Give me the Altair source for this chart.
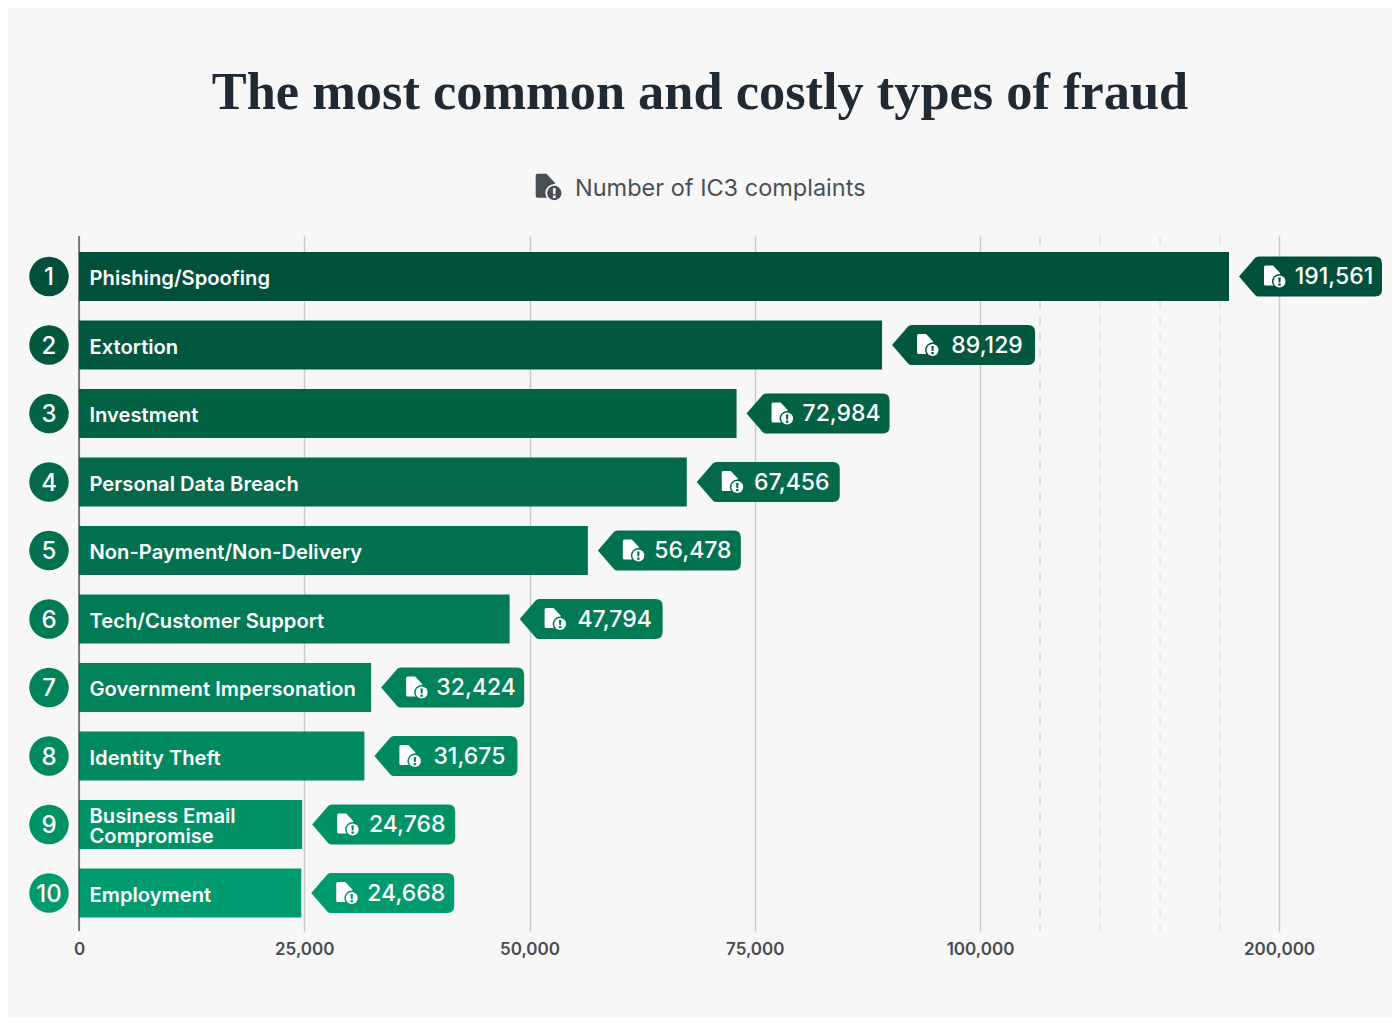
import altair as alt
import pandas as pd

ranks = list(range(1, 11))
categories = ["Phishing/Spoofing", "Extortion", "Investment", "Personal Data Breach",
              "Non-Payment/Non-Delivery", "Tech/Customer Support", "Government Impersonation",
              "Identity Theft", "Business Email\nCompromise", "Employment"]
complaints = [191561, 89129, 72984, 67456, 56478, 47794, 32424, 31675, 24768, 24668]
colors = ["#01503b", "#02583f", "#036144", "#03694a", "#02714f",
          "#027a55", "#02825a", "#018a60", "#009265", "#009a6f"]
tick_values = [0, 25000, 50000, 75000, 100000, 200000]
break_values = [120000, 140000, 160000, 180000]
break_opacity = [0.9, 0.6, 0.6, 0.6]
title_text = "The most common and costly types of fraud"
subtitle_text = "Number of IC3 complaints"

df = pd.DataFrame({"rank": ranks, "category": categories, "value": complaints, "zero": 0})
df["label"] = df["value"].map(lambda v: f"{v:,}")
breaks = pd.DataFrame({"b": break_values, "o": break_opacity})

FONT = "Inter"
BADGE = "M10 0 L26 -18.5 Q27.5 -20 29.5 -20 H146 Q153 -20 153 -13 V13 Q153 20 146 20 H29.5 Q27.5 20 26 18.5 Z"
DOC = "M-7.5 -11 H0 L7 -3.5 V9 H-7.5 Q-9 9 -9 7.5 V-9.5 Q-9 -11 -7.5 -11 Z"
BANG = "M-1.2 -4 H1.2 L0.9 1 H-0.9 Z M-1.2 2 H1.2 V4.2 H-1.2 Z"

x_scale = alt.Scale(domain=[0, 100000, 180000, 191561, 200000],
                    range=[0, 901, 1141, 1150, 1200], clamp=False)
x = alt.X("value:Q", scale=x_scale, axis=alt.Axis(
    values=tick_values, format=",d", title=None, domain=False, ticks=False,
    grid=True, gridColor="#c9c9c9", gridWidth=1.5, labelFont=FONT, labelFontSize=17,
    labelFontWeight=600, labelColor="#474c52", labelPadding=10, labelOverlap=False,
    labelFlush=False, labelBound=False))
y = alt.Y("rank:O", axis=None, scale=alt.Scale(
    type="band", domain=ranks, paddingInner=0.285, paddingOuter=0.2156, align=0.542))
fill = alt.Color("rank:O", legend=None, scale=alt.Scale(domain=ranks, range=colors))
zero_x = alt.X("zero:Q")

base = alt.Chart(df)
two_lines = "indexof(datum.category, '\\n') >= 0"

dashes = alt.Chart(breaks).mark_rule(strokeDash=[9, 7], color="#cfcfcf", strokeWidth=1.2).encode(
    x=alt.X("b:Q"), opacity=alt.Opacity("o:Q", legend=None, scale=None))
axis_line = base.transform_filter("datum.rank == 1").mark_rule(color="#3a3f44", strokeWidth=1.2).encode(x=zero_x)
bars = base.mark_bar().encode(x=x, y=y, color=fill)
circles = base.mark_circle(size=1560, opacity=1, xOffset=-30).encode(x=zero_x, y=y, color=fill)
rank_text = base.mark_text(font=FONT, fontSize=24, fontWeight=500, color="white", xOffset=-30, yOffset=2).encode(
    x=zero_x, y=y, text="rank:O")
names = base.transform_filter("!(" + two_lines + ")").mark_text(
    font=FONT, fontSize=20.2, fontWeight=600, color="white", align="left", dx=10.5, dy=3).encode(
    x=zero_x, y=y, text="category:N")
names2 = base.transform_filter(two_lines).mark_text(
    font=FONT, fontSize=20.2, fontWeight=600, color="white", align="left", dx=10.5, dy=-7,
    lineBreak="\n", lineHeight=20).encode(x=zero_x, y=y, text="category:N")
badges = base.mark_point(shape=BADGE, size=4, filled=True, opacity=1, strokeWidth=0).encode(x="value:Q", y=y, color=fill)
values = base.mark_text(font=FONT, fontSize=23, fontWeight=500, color="white", dx=105, dy=1).encode(
    x="value:Q", y=y, text="label:N")


def icon(chart, enc, ox, oy, scale, colour_enc, ring):
    return [
        chart.mark_point(shape=DOC, size=4 * scale ** 2, filled=True, opacity=1, strokeWidth=0,
                         xOffset=ox, yOffset=oy, color="white" if colour_enc else "#4a4f55").encode(**enc),
        chart.mark_circle(size=225 * scale ** 2, opacity=1, xOffset=ox + 6.5 * scale, yOffset=oy + 5 * scale,
                          **({"color": ring} if ring else {})).encode(**enc, **({"color": colour_enc} if colour_enc else {})),
        chart.mark_circle(size=144 * scale ** 2, opacity=1, xOffset=ox + 6.5 * scale, yOffset=oy + 5 * scale,
                          color="white" if colour_enc else "#4a4f55").encode(**enc),
        chart.mark_point(shape=BANG, size=4 * scale ** 2, filled=True, opacity=1, strokeWidth=0,
                         xOffset=ox + 6.5 * scale, yOffset=oy + 5 * scale,
                         **({"color": ring or "#f7f7f7"} if not colour_enc else {})).encode(
            **enc, **({"color": colour_enc} if colour_enc else {})),
    ]


badge_icons = icon(base, {"x": alt.X("value:Q"), "y": y}, 44, 0, 1, fill, None)

head = alt.Chart(pd.DataFrame({"t": [subtitle_text], "h": [title_text]}))
title = head.mark_text(font="Liberation Serif", fontSize=52.4, fontWeight=700, color="#1f2a35",
                       align="center", baseline="alphabetic").encode(
    x=alt.value(621), y=alt.value(-127), text="h:N")
subtitle = head.mark_text(font=FONT, fontSize=23.5, fontWeight=400, color="#4a4f55", align="left", dy=1).encode(
    x=alt.value(496), y=alt.value(-48), text="t:N")
head_icon = icon(head, {"x": alt.value(467.5), "y": alt.value(-49)}, 0, 0, 1.2, None, "#f7f7f7")

chart = alt.layer(
    dashes, bars, axis_line, circles, rank_text, names, names2, badges, values, *badge_icons,
    title, subtitle, *head_icon
).resolve_scale(color="shared").properties(
    width=1200, height=695,
    background="#f7f7f7",
    padding={"left": 71, "top": 228, "right": 113, "bottom": 86},
    autosize=alt.AutoSizeParams(type="none"),
).configure_view(stroke=None)

chart.save("out.html", embed_options={"renderer": "svg", "actions": False})
